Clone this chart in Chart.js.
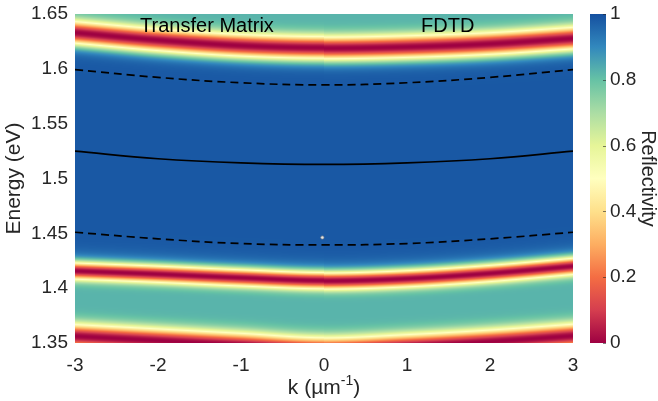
<!DOCTYPE html>
<html>
<head>
<meta charset="utf-8">
<script src="https://cdn.jsdelivr.net/npm/chart.js@4"></script>
<style>
  html, body { margin: 0; padding: 0; background: #fff; }
</style>
</head>
<body>
<canvas id="grafico" width="658" height="401"></canvas>
<script>
// vetor de onda (µm^-1) de cada metade do mapa
const kTM = [-3, -2, -1, 0];
const kFDTD = [0, 1, 2, 3];

// energias (eV) dos mínimos de refletividade - Transfer Matrix (k < 0)
const dipSuperiorTM = [1.6330, 1.6262, 1.6212, 1.6193];
const dipMedioTM = [1.4157, 1.4128, 1.4095, 1.4070];
const dipInferiorTM = [1.3562, 1.3522, 1.3482, 1.3442];

// energias (eV) dos mínimos de refletividade - FDTD (k > 0)
const dipSuperiorFDTD = [1.6188, 1.6200, 1.6228, 1.6277];
const dipMedioFDTD = [1.4066, 1.4087, 1.4135, 1.4200];
const dipInferiorFDTD = [1.3440, 1.3470, 1.3512, 1.3565];

// curvas sobrepostas
const kLinhas = [-3, -2, -1, 0, 1, 2, 3];
const modoCentral = [1.5250, 1.5180, 1.5142, 1.5128, 1.5142, 1.5180, 1.5250];
const ramoSuperior = [1.5993, 1.5922, 1.5873, 1.5853, 1.5873, 1.5922, 1.5993];
const ramoInferior = [1.4510, 1.4450, 1.4407, 1.4394, 1.4407, 1.4450, 1.4510];
const pontoMarcado = [{ x: -0.02, y: 1.4462 }];

// escala de cores (0 = vermelho, 1 = azul)
const mapaCores = ['#9e0142', '#d53e4f', '#f46d43', '#fdae61', '#fee08b', '#ffffbf',
                   '#e6f598', '#abdda4', '#66c2a5', '#3288bd', '#1550a0'];

const R_FORA = 0.825;    // refletividade fora da banda proibida
const R_DENTRO = 0.985;  // dentro da banda proibida
const BORDA = 0.014;     // largura da transição na borda da banda (eV)
const larguras = [0.0105, 0.0078, 0.011]; // largura de cada mínimo (eV)

const FONTE = '"Liberation Sans", Arial, sans-serif';
const COR_TEXTO = '#262626';

const rgbMapa = mapaCores.map(h => [1, 3, 5].map(i => parseInt(h.slice(i, i + 2), 16)));

function corDe(v) {
  v = Math.min(Math.max(v, 0), 1) * (rgbMapa.length - 1);
  const i = Math.min(Math.floor(v), rgbMapa.length - 2);
  const t = v - i;
  return rgbMapa[i].map((c, j) => c + (rgbMapa[i + 1][j] - c) * t);
}

// Catmull-Rom entre as amostras lidas; em k = 0 a curva é espelhada (derivada nula)
function suave(ks, es, k) {
  const n = ks.length;
  let i = 0;
  while (i < n - 2 && k > ks[i + 1]) i++;
  const t = Math.min(Math.max((k - ks[i]) / (ks[i + 1] - ks[i]), 0), 1);
  const p1 = es[i], p2 = es[i + 1];
  const p0 = i > 0 ? es[i - 1] : (ks[0] === 0 ? es[1] : 2 * p1 - p2);
  const p3 = i + 2 < n ? es[i + 2] : (ks[n - 1] === 0 ? es[n - 2] : 2 * p2 - p1);
  return 0.5 * ((2 * p1) + (-p0 + p2) * t + (2 * p0 - 5 * p1 + 4 * p2 - p3) * t * t +
    (-p0 + 3 * p1 - 3 * p2 + p3) * t * t * t);
}

function refletividade(E, centros) {
  const [cSup, cMed] = centros;
  let r = R_FORA;
  if (E > cMed && E < cSup) {
    const d = Math.min(E - cMed, cSup - E);
    r = R_FORA + (R_DENTRO - R_FORA) * (1 - Math.exp(-((d / BORDA) ** 2)));
  }
  centros.forEach((c, i) => { r *= 1 - Math.exp(-(((E - c) / larguras[i]) ** 2)); });
  return r;
}

const mapaCalor = {
  id: 'mapaCalor',
  beforeDatasetsDraw(chart) {
    const { ctx, chartArea: a, scales: { x, y } } = chart;
    const w = Math.round(a.right - a.left), h = Math.round(a.bottom - a.top);
    const off = document.createElement('canvas');
    off.width = w; off.height = h;
    const octx = off.getContext('2d');
    const img = octx.createImageData(w, h);
    for (let px = 0; px < w; px++) {
      const k = x.getValueForPixel(a.left + px + 0.5);
      const centros = k < 0
        ? [suave(kTM, dipSuperiorTM, k), suave(kTM, dipMedioTM, k), suave(kTM, dipInferiorTM, k)]
        : [suave(kFDTD, dipSuperiorFDTD, k), suave(kFDTD, dipMedioFDTD, k), suave(kFDTD, dipInferiorFDTD, k)];
      for (let py = 0; py < h; py++) {
        const E = y.getValueForPixel(a.top + py + 0.5);
        const c = corDe(refletividade(E, centros));
        const o = (py * w + px) * 4;
        img.data[o] = c[0]; img.data[o + 1] = c[1]; img.data[o + 2] = c[2]; img.data[o + 3] = 255;
      }
    }
    octx.putImageData(img, 0, 0);
    ctx.save();
    ctx.drawImage(off, a.left, a.top);
    ctx.restore();
  },
  afterDatasetsDraw(chart) {
    const { ctx, chartArea: a, scales: { x, cb } } = chart;
    ctx.save();
    // barra de cores
    const y0 = cb.getPixelForValue(0), y1 = cb.getPixelForValue(1);
    const grad = ctx.createLinearGradient(0, y0, 0, y1);
    mapaCores.forEach((c, i) => grad.addColorStop(i / (mapaCores.length - 1), c));
    ctx.fillStyle = grad;
    ctx.fillRect(cb.left + 17, y1, 16, y0 - y1);
    ctx.strokeStyle = 'rgba(38,38,38,0.6)';
    ctx.lineWidth = 1;
    cb.ticks.forEach(t => {
      const py = Math.round(cb.getPixelForValue(t.value)) + 0.5;
      ctx.beginPath(); ctx.moveTo(cb.left + 30, py); ctx.lineTo(cb.left + 33, py); ctx.stroke();
    });

    // rótulos das duas metades
    ctx.fillStyle = '#000';
    ctx.font = '20px ' + FONTE;
    ctx.textAlign = 'center';
    ctx.textBaseline = 'alphabetic';
    ctx.fillText('Transfer Matrix', x.getPixelForValue(-1.41), a.top + 18);
    ctx.fillText('FDTD', x.getPixelForValue(1.49), a.top + 18);

    // título do eixo x com expoente
    ctx.fillStyle = COR_TEXTO;
    const base = 'k (µm', sup = '-1', fim = ')';
    ctx.font = '21px ' + FONTE;
    const wBase = ctx.measureText(base).width, wFim = ctx.measureText(fim).width;
    ctx.font = '14px ' + FONTE;
    const wSup = ctx.measureText(sup).width;
    let px = (a.left + a.right) / 2 - (wBase + wSup + wFim) / 2;
    const by = 394;
    ctx.textAlign = 'left';
    ctx.font = '21px ' + FONTE;
    ctx.fillText(base, px, by); px += wBase;
    ctx.font = '14px ' + FONTE;
    ctx.fillText(sup, px, by - 9); px += wSup;
    ctx.font = '21px ' + FONTE;
    ctx.fillText(fim, px, by);
    ctx.restore();
  }
};

const linha = (dados, tracejado) => ({
  data: kLinhas.map((k, i) => ({ x: k, y: dados[i] })),
  showLine: true,
  borderColor: '#000',
  borderWidth: 1.7,
  borderDash: tracejado ? [8, 5] : [],
  pointRadius: 0,
  tension: 0.4,
  yAxisID: 'y'
});

// eixos verticais sem folga extra acima/abaixo da área do gráfico
const larguraFixa = w => s => { s.width = w; s.paddingTop = 0; s.paddingBottom = 0; };

new Chart(document.getElementById('grafico'), {
  type: 'scatter',
  data: {
    datasets: [
      linha(ramoSuperior, true),
      linha(modoCentral, false),
      linha(ramoInferior, true),
      {
        data: pontoMarcado,
        pointRadius: 1.6,
        backgroundColor: '#e6e6e6',
        borderColor: '#8a8a8a',
        borderWidth: 0.7,
        yAxisID: 'y'
      }
    ]
  },
  options: {
    responsive: false,
    animation: false,
    events: [],
    layout: { padding: { top: 14, left: 0, right: 0, bottom: 0 } },
    plugins: { legend: { display: false }, tooltip: { enabled: false } },
    scales: {
      x: {
        type: 'linear', position: 'bottom', min: -3, max: 3,
        afterFit: s => { s.height = 58; s.paddingLeft = 0; s.paddingRight = 0; },
        grid: { display: false, drawTicks: false }, border: { display: false },
        ticks: { stepSize: 1, maxRotation: 0, autoSkip: false, padding: 11,
                 color: COR_TEXTO, font: { family: FONTE, size: 19 } }
      },
      y: {
        type: 'linear', position: 'left', min: 1.35, max: 1.65,
        afterFit: larguraFixa(75),
        grid: { display: false, drawTicks: false }, border: { display: false },
        ticks: { stepSize: 0.05, autoSkip: false, padding: 7, color: COR_TEXTO,
                 font: { family: FONTE, size: 19 },
                 callback: v => String(+v.toFixed(2)) },
        title: { display: true, text: 'Energy (eV)', color: COR_TEXTO,
                 font: { family: FONTE, size: 21 }, padding: { top: 2, bottom: 0 } }
      },
      cb: {
        type: 'linear', position: 'right', min: 0, max: 1,
        afterFit: larguraFixa(85),
        grid: { display: false, drawTicks: false }, border: { display: false },
        ticks: { stepSize: 0.2, autoSkip: false, padding: 37, color: COR_TEXTO,
                 font: { family: FONTE, size: 19 },
                 callback: v => String(+v.toFixed(1)) },
        title: { display: true, text: 'Reflectivity', color: COR_TEXTO,
                 font: { family: FONTE, size: 20, lineHeight: 1 }, padding: { top: 0, bottom: 0 } }
      }
    }
  },
  plugins: [mapaCalor]
});
</script>
</body>
</html>
